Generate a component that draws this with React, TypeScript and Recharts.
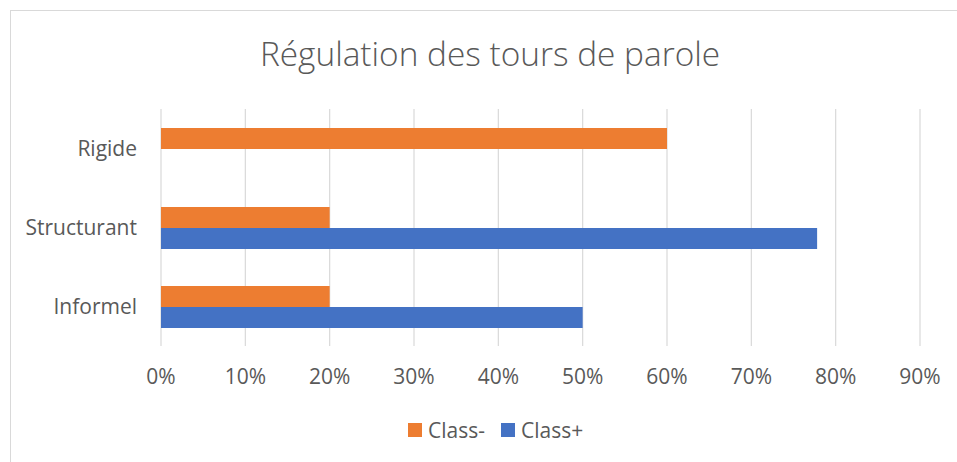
import { BarChart, Bar, XAxis, YAxis, CartesianGrid } from "recharts"

// chart data
const categories = ["Rigide", "Structurant", "Informel"]
const classMinus = [0.6, 0.2, 0.2]
const classPlus = [0, 0.778, 0.5]
const xTicks = [0, 0.1, 0.2, 0.3, 0.4, 0.5, 0.6, 0.7, 0.8, 0.9]

const seriesNames = ["Class-", "Class+"]
const seriesColors = ["#ED7D31", "#4472C4"]

const FONT = "'Open Sans', sans-serif"
const TEXT_COLOR = "#595959"

const chartData = categories.map((name, i) => ({
  name,
  minus: classMinus[i],
  plus: classPlus[i],
}))

const formatPct = (v: number) => `${Math.round(v * 100)}%`

export default function App() {
  return (
    <div style={{ position: "fixed", left: 0, top: 0, width: 957, height: 462, overflow: "hidden", background: "#fff", fontFamily: FONT }}>
      {/* chart frame, cropped on the right and bottom like the source */}
      <div style={{ position: "absolute", left: 10, top: 10, width: 980, height: 480, border: "1px solid #d9d9d9" }} />

      <div style={{ position: "absolute", left: 0, top: 37, width: 980, textAlign: "center", fontSize: 33.4, fontWeight: 300, lineHeight: 1, color: TEXT_COLOR }}>
        Régulation des tours de parole
      </div>

      <div style={{ position: "absolute", left: 0, top: 0 }}>
        <BarChart
          width={957}
          height={462}
          data={chartData}
          layout="vertical"
          margin={{ top: 109, right: 37, left: 0, bottom: 76 }}
          barSize={21}
          barGap={0}
        >
          <CartesianGrid horizontal={false} stroke="#d9d9d9" strokeWidth={1.2} />
          <XAxis
            type="number"
            domain={[0, 0.9]}
            ticks={xTicks}
            tickFormatter={formatPct}
            axisLine={false}
            tickLine={false}
            tickSize={0}
            tickMargin={23}
            height={40}
            interval={0}
            tick={{ fill: TEXT_COLOR, fontSize: 21, fontFamily: FONT }}
          />
          <YAxis
            type="category"
            dataKey="name"
            width={161}
            axisLine={false}
            tickLine={false}
            tickSize={0}
            tickMargin={24}
            tick={{ fill: TEXT_COLOR, fontSize: 21, fontFamily: FONT }}
          />
          <Bar dataKey="minus" name={seriesNames[0]} fill={seriesColors[0]} isAnimationActive={false} />
          <Bar dataKey="plus" name={seriesNames[1]} fill={seriesColors[1]} isAnimationActive={false} />
        </BarChart>
      </div>

      {/* legend */}
      <div style={{ position: "absolute", left: 408, top: 416, display: "flex", alignItems: "center", fontSize: 21, lineHeight: "28px", color: TEXT_COLOR }}>
        {seriesNames.map((n, i) => (
          <div key={n} style={{ display: "flex", alignItems: "center", marginRight: 16 }}>
            <span style={{ display: "inline-block", width: 14, height: 14, background: seriesColors[i], marginRight: 6 }} />
            <span>{n}</span>
          </div>
        ))}
      </div>
    </div>
  )
}
